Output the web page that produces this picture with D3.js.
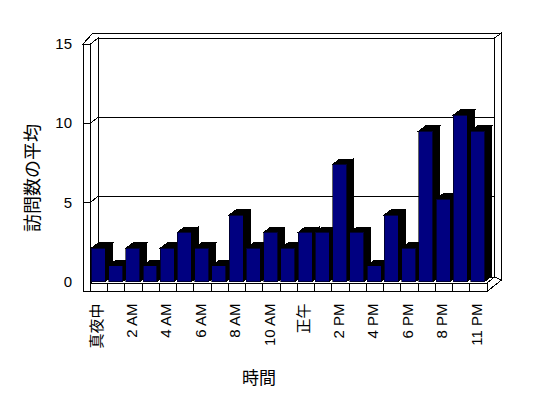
<!DOCTYPE html>
<html>
<head>
<meta charset="utf-8">
<script src="https://cdn.jsdelivr.net/npm/d3@7"></script>
<style>
  body { margin: 0; background: #fff; }
  text { font-family: "Liberation Sans", Arial, "Noto Sans CJK JP", sans-serif; fill: #000; }
</style>
</head>
<body>
<div id="chart"></div>
<script>
// hourly categories (one evening hour is missing in the source data)
const hours = ["真夜中","1 AM","2 AM","3 AM","4 AM","5 AM","6 AM","7 AM","8 AM","9 AM","10 AM","11 AM",
               "正午","1 PM","2 PM","3 PM","4 PM","5 PM","6 PM","7 PM","8 PM","9 PM","11 PM"];
// average number of visits
const visits = [2.1, 1.0, 2.1, 1.0, 2.1, 3.1, 2.1, 1.0, 4.2, 2.1, 3.1, 2.1,
                3.1, 3.1, 7.4, 3.1, 1.0, 4.2, 2.1, 9.5, 5.2, 10.5, 9.5];
const yTicks = [0, 5, 10, 15];
const xTitle = "時間";
const yTitle = "訪問数の平均";

const W = 548, H = 398;
const svg = d3.select("#chart").append("svg")
    .attr("width", W).attr("height", H);

// front plane scales
const x = d3.scaleBand().domain(hours).range([90.5, 487]).padding(0);
const y = d3.scaleLinear().domain([0, 15]).range([281.5, 44]);

// oblique depth offsets
const wd = {x: 7.5, y: -6};    // front -> back wall surface
const th = {x: 7, y: -5};      // back wall thickness
const bd = {x: 7, y: -5.3};    // bar depth

const xL = 83, xIn = x.range()[0], xR = x.range()[1];
const floorTop = 283, floorBot = 291.5;
const wallTop = y(15) + wd.y;
const wallBot = floorTop + wd.y;

const g = svg.append("g").attr("shape-rendering", "crispEdges");
const line = (x1, y1, x2, y2) => g.append("line")
    .attr("x1", x1).attr("y1", y1).attr("x2", x2).attr("y2", y2)
    .attr("stroke", "#000").attr("stroke-width", 1);
const poly = (pts, fill) => g.append("polygon")
    .attr("points", pts.map(p => p.join(",")).join(" "))
    .attr("fill", fill).attr("stroke", "#000").attr("stroke-width", 1);

// back wall
poly([[xIn + wd.x, wallTop], [xR + wd.x, wallTop], [xR + wd.x, wallBot], [xIn + wd.x, wallBot]], "#fff");
// top edge of walls
poly([[xL, y(15)], [xL + 10, wallTop + th.y], [xR + wd.x + th.x, wallTop + th.y],
      [xR + wd.x, wallTop], [xIn + wd.x, wallTop], [xIn, y(15)]], "#fff");
// right edge of back wall
poly([[xR + wd.x, wallTop], [xR + wd.x + th.x, wallTop + th.y],
      [xR + wd.x + th.x, floorBot - 11.5], [xR + wd.x, wallBot]], "#fff");

// gridlines on back wall
yTicks.filter(v => v > 0 && v < 15).forEach(v => {
  line(xIn + wd.x, y(v) + wd.y, xR + wd.x, y(v) + wd.y);
});

// left wall: inner face and front face
poly([[xIn, y(15)], [xIn + wd.x, wallTop], [xIn + wd.x, wallBot], [xIn, floorTop]], "#fff");
poly([[xL, y(15)], [xIn, y(15)], [xIn, floorBot], [xL, floorBot]], "#fff");
yTicks.filter(v => v > 0 && v < 15).forEach(v => {
  line(xL, y(v), xIn, y(v));
  line(xIn, y(v), xIn + wd.x, y(v) + wd.y);
});

// floor right side
poly([[xR, floorTop], [xR + wd.x, wallBot], [xR + wd.x + th.x, floorBot - 11.5], [xR, floorBot]], "#fff");

// bars, drawn left to right so the right neighbour hides the side face
const bw = x.bandwidth() * 0.81, bo = 0.8;
const pts = a => a.map(p => p.join(",")).join(" ");
const bars = g.selectAll("g.bar").data(visits).enter().append("g").attr("class", "bar");
bars.each(function(v, i) {
  const b = d3.select(this);
  const x0 = x(hours[i]) + bo, x1 = x0 + bw, yt = y(v), yb = y(0);
  b.append("polygon").attr("fill", "#000").attr("stroke", "#000")
    .attr("points", pts([[x1, yt], [x1 + bd.x, yt + bd.y], [x1 + bd.x, yb + bd.y], [x1, yb]]));
  b.append("polygon").attr("fill", "#000").attr("stroke", "#000")
    .attr("points", pts([[x0, yt], [x0 + bd.x, yt + bd.y], [x1 + bd.x, yt + bd.y], [x1, yt]]));
  b.append("rect").attr("x", x0).attr("y", yt).attr("width", bw).attr("height", yb - yt)
    .attr("fill", "#000080").attr("stroke", "#000").attr("stroke-width", 0.6);
});

// floor front face with category dividers
poly([[xIn, floorTop], [xR, floorTop], [xR, floorBot], [xIn, floorBot]], "#fff");
hours.forEach(h => line(x(h), floorTop, x(h), floorBot));
line(xL, floorBot, xR, floorBot);

// y axis labels
const yAxis = svg.append("g").attr("transform", `translate(${xL},0)`)
    .call(d3.axisLeft(y).tickValues(yTicks).tickSize(0).tickPadding(11));
yAxis.select(".domain").remove();
yAxis.selectAll("text").attr("font-size", 15).attr("font-family", null);

// x axis labels, every second hour, rotated
const xAxis = svg.append("g").attr("transform", `translate(0,${floorBot})`)
    .call(d3.axisBottom(x).tickValues(hours.filter((h, i) => i % 2 === 0)).tickSize(0));
xAxis.select(".domain").remove();
xAxis.selectAll("text")
    .attr("font-size", 15).attr("font-family", null)
    .attr("text-anchor", "end")
    .attr("transform", "rotate(-90)")
    .attr("x", -12).attr("y", -2).attr("dy", "0.35em");

// titles
svg.append("text").attr("x", 259).attr("y", 378).attr("dy", "0.35em")
    .attr("text-anchor", "middle").attr("font-size", 17).text(xTitle);
svg.append("text").attr("transform", "translate(33,178) rotate(-90)").attr("dy", "0.35em")
    .attr("text-anchor", "middle").attr("font-size", 18).text(yTitle);
</script>
</body>
</html>
